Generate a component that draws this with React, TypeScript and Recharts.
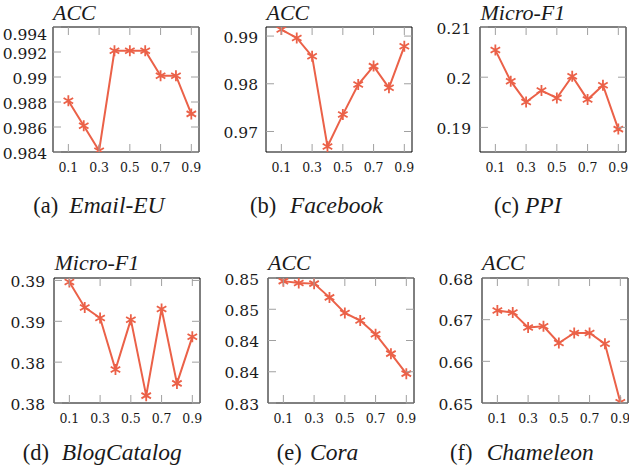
import { LineChart, Line, XAxis, YAxis, ReferenceArea } from 'recharts';

// ratio on the x axis, shared by every panel
const X_VALUES = [0.1, 0.2, 0.3, 0.4, 0.5, 0.6, 0.7, 0.8, 0.9];
const X_TICKS = [0.1, 0.3, 0.5, 0.7, 0.9];
const X_LABELS = ['0.1', '0.3', '0.5', '0.7', '0.9'];
const X_DOMAIN = [0, 0.95];

// series values
const EMAIL_EU = [0.9881, 0.9861, 0.9841, 0.9921, 0.9921, 0.9921, 0.9901, 0.9901, 0.98705];
const FACEBOOK = [0.99137, 0.9896, 0.98575, 0.96686, 0.97354, 0.97985, 0.9837, 0.97916, 0.98785];
const PPI = [0.2054, 0.1992, 0.19506, 0.19734, 0.19586, 0.2002, 0.19554, 0.1984, 0.18966];
const BLOG_CATALOG = [0.3898, 0.3867, 0.3854, 0.3791, 0.3852, 0.3759, 0.3865, 0.3774, 0.3831];
const CORA = [0.8495, 0.8492, 0.8491, 0.8469, 0.8444, 0.8432, 0.841, 0.8379, 0.8347];
const CHAMELEON = [0.6722, 0.6717, 0.6681, 0.6684, 0.6644, 0.6668, 0.6668, 0.6642, 0.6502];

// y ticks and their printed labels (the source rounds to two places, hence repeats)
const Y_TICKS_A = [0.984, 0.986, 0.988, 0.99, 0.992, 0.994];
const Y_LABELS_A = ['0.984', '0.986', '0.988', '0.99', '0.992', '0.994'];
const Y_TICKS_B = [0.97, 0.98, 0.99];
const Y_LABELS_B = ['0.97', '0.98', '0.99'];
const Y_TICKS_C = [0.19, 0.2, 0.21];
const Y_LABELS_C = ['0.19', '0.2', '0.21'];
const Y_TICKS_D = [0.375, 0.38, 0.385, 0.39];
const Y_LABELS_D = ['0.38', '0.38', '0.39', '0.39'];
const Y_TICKS_E = [0.83, 0.835, 0.84, 0.845, 0.85];
const Y_LABELS_E = ['0.83', '0.84', '0.84', '0.85', '0.85'];
const Y_TICKS_F = [0.65, 0.66, 0.67, 0.68];
const Y_LABELS_F = ['0.65', '0.66', '0.67', '0.68'];

const TITLES = ['ACC', 'ACC', 'Micro-F1', 'Micro-F1', 'ACC', 'ACC'];
const CAPTION_LABELS = ['(a)', '(b)', '(c)', '(d)', '(e)', '(f)'];
const CAPTION_NAMES = ['Email-EU', 'Facebook', 'PPI', 'BlogCatalog', 'Cora', 'Chameleon'];

const LINE_COLOR = '#EB6148';
const TICK_GRAY = '#a0a0a0';
const TEXT_COLOR = '#1a1a1a';
const TIMES = 'Liberation Serif';
const TICK_FONT = 'DejaVu Serif';
const TICK_LEN = 8;
const BOX_W = 146;
const BOX_H = 125;
const Y_AXIS_W = 62;
const X_AXIS_H = 32;
const M_TOP = 6;
const M_RIGHT = 6;

interface PanelSpec {
  series: number[];
  yDomain: number[];
  yTicks: number[];
  yLabels: string[];
  left: number;
  top: number;
  labelGap: number;
  topLabelShift?: number;
  captionLabelX: number;
  captionNameX: number;
}

const PANELS: PanelSpec[] = [
  { series: EMAIL_EU, yDomain: [0.984, 0.994], yTicks: Y_TICKS_A, yLabels: Y_LABELS_A, left: 52.5, top: 26.5, labelGap: 6, topLabelShift: 6, captionLabelX: 33.3, captionNameX: 69.3 },
  { series: FACEBOOK, yDomain: [0.9657, 0.9919], yTicks: Y_TICKS_B, yLabels: Y_LABELS_B, left: 266, top: 26.5, labelGap: 8, captionLabelX: 250, captionNameX: 290 },
  { series: PPI, yDomain: [0.1851, 0.21], yTicks: Y_TICKS_C, yLabels: Y_LABELS_C, left: 480, top: 26.5, labelGap: 9, captionLabelX: 494, captionNameX: 525 },
  { series: BLOG_CATALOG, yDomain: [0.375, 0.3903], yTicks: Y_TICKS_D, yLabels: Y_LABELS_D, left: 54, top: 278, labelGap: 9, captionLabelX: 22.7, captionNameX: 61.7 },
  { series: CORA, yDomain: [0.83, 0.85], yTicks: Y_TICKS_E, yLabels: Y_LABELS_E, left: 267.5, top: 278, labelGap: 9, captionLabelX: 276.7, captionNameX: 310 },
  { series: CHAMELEON, yDomain: [0.65, 0.68], yTicks: Y_TICKS_F, yLabels: Y_LABELS_F, left: 481.5, top: 278, labelGap: 9, captionLabelX: 450, captionNameX: 486.7 },
];

function Asterisk(props: any) {
  const { cx, cy } = props;
  if (cx == null || cy == null) return null;
  const r = 5.5;
  let d = '';
  for (const deg of [90, 30, 150]) {
    const a = (deg * Math.PI) / 180;
    const dx = r * Math.cos(a);
    const dy = r * Math.sin(a);
    d += `M${cx - dx},${cy + dy}L${cx + dx},${cy - dy}`;
  }
  return <path key={`m-${cx}-${cy}`} d={d} stroke={LINE_COLOR} strokeWidth={1.8} fill="none" />;
}

function makeXTick() {
  return (props: any) => {
    const { x, y, payload } = props;
    const label = X_LABELS[X_TICKS.indexOf(payload.value)];
    return (
      <g>
        <line x1={x} x2={x} y1={y} y2={y - TICK_LEN} stroke={TICK_GRAY} strokeWidth={1} />
        <line x1={x} x2={x} y1={y - BOX_H} y2={y - BOX_H + TICK_LEN} stroke={TICK_GRAY} strokeWidth={1} />
        <text x={x} y={y + 19.5} textAnchor="middle" fontFamily={TICK_FONT} fontSize={12.5} fill={TEXT_COLOR}>
          {label}
        </text>
      </g>
    );
  };
}

function makeYTick(p: PanelSpec) {
  return (props: any) => {
    const { x, y, payload } = props;
    const i = p.yTicks.indexOf(payload.value);
    const shift = p.topLabelShift && i === p.yTicks.length - 1 ? p.topLabelShift : 0;
    return (
      <g>
        <line x1={x} x2={x + TICK_LEN} y1={y} y2={y} stroke={TICK_GRAY} strokeWidth={1} />
        <line x1={x + BOX_W - TICK_LEN} x2={x + BOX_W} y1={y} y2={y} stroke={TICK_GRAY} strokeWidth={1} />
        <text x={x - p.labelGap} y={y + 6.5 + shift} textAnchor="end" fontFamily={TICK_FONT} fontSize={15.5} fill={TEXT_COLOR}>
          {p.yLabels[i]}
        </text>
      </g>
    );
  };
}

function Panel({ p }: { p: PanelSpec }) {
  const data = X_VALUES.map((x, i) => ({ x, v: p.series[i] }));
  return (
    <div style={{ position: 'absolute', left: p.left - Y_AXIS_W, top: p.top - M_TOP }}>
      <LineChart
        width={Y_AXIS_W + BOX_W + M_RIGHT}
        height={M_TOP + BOX_H + X_AXIS_H}
        data={data}
        margin={{ top: M_TOP, right: M_RIGHT, bottom: 0, left: 0 }}
      >
        <XAxis
          dataKey="x"
          type="number"
          domain={X_DOMAIN}
          ticks={X_TICKS}
          interval={0}
          allowDataOverflow
          height={X_AXIS_H}
          axisLine={false}
          tickLine={false}
          tickSize={0}
          tickMargin={0}
          tick={makeXTick()}
        />
        <YAxis
          type="number"
          domain={p.yDomain}
          ticks={p.yTicks}
          interval={0}
          allowDataOverflow
          width={Y_AXIS_W}
          axisLine={false}
          tickLine={false}
          tickSize={0}
          tickMargin={0}
          tick={makeYTick(p)}
        />
        <ReferenceArea
          x1={X_DOMAIN[0]}
          x2={X_DOMAIN[1]}
          y1={p.yDomain[0]}
          y2={p.yDomain[1]}
          fill="none"
          stroke="#000"
          strokeWidth={1}
          ifOverflow="visible"
        />
        <Line
          type="linear"
          dataKey="v"
          stroke={LINE_COLOR}
          strokeWidth={2}
          dot={Asterisk}
          activeDot={false}
          isAnimationActive={false}
        />
      </LineChart>
    </div>
  );
}

export default function App() {
  return (
    <div style={{ position: 'absolute', left: 0, top: 0, width: 629, height: 469, background: '#fff', overflow: 'hidden' }}>
      {PANELS.map((p, i) => (
        <Panel key={i} p={p} />
      ))}
      <svg width={629} height={469} style={{ position: 'absolute', left: 0, top: 0, pointerEvents: 'none' }}>
        {PANELS.map((p, i) => {
          const titleY = p.top < 100 ? 19.7 : 269.5;
          const capY = p.top < 100 ? 212.5 : 460;
          return (
            <g key={i} fill={TEXT_COLOR}>
              <text x={p.left + 0.5} y={titleY} fontFamily={TIMES} fontSize={22} fontStyle="italic">
                {TITLES[i]}
              </text>
              <text x={p.captionLabelX} y={capY} fontFamily={TIMES} fontSize={22.5}>
                {CAPTION_LABELS[i]}
              </text>
              <text x={p.captionNameX} y={capY} fontFamily={TIMES} fontSize={23.5} fontStyle="italic">
                {CAPTION_NAMES[i]}
              </text>
            </g>
          );
        })}
      </svg>
    </div>
  );
}
